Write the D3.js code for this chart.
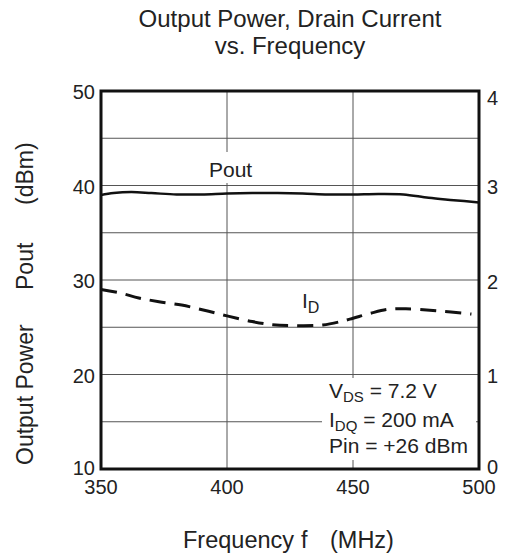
<!DOCTYPE html>
<html><head><meta charset="utf-8">
<script src="https://cdn.jsdelivr.net/npm/d3@7"></script>
<style>body{margin:0;background:#fff}svg{display:block}text{font-family:"Liberation Sans",Arial,Helvetica,sans-serif;fill:#222}</style>
</head><body>
<script>
const freq = [350,355,362,370,380,390,400,410,420,430,440,450,460,470,480,490,500];
const pout = [39.0,39.2,39.3,39.2,39.05,39.05,39.15,39.2,39.2,39.15,39.05,39.05,39.1,39.05,38.7,38.45,38.2];
const idFreq = [350,358,365,373,382,391,400,410,418,426,438,446,450,457,464,471,483,497];
const idVals = [1.90,1.86,1.81,1.77,1.735,1.68,1.62,1.56,1.527,1.517,1.524,1.566,1.595,1.648,1.69,1.696,1.675,1.64];
const xTicks = [350,400,450,500];
const yLeftTicks = [10,20,30,40,50];
const yRightTicks = [0,1,2,3,4];
const yGrid = [15,20,25,30,35,40,45];
const xGrid = [400,450];

const W=506,H=557, L=101,T=91,R=479,B=469;
const svg=d3.select("body").append("svg").attr("width",W).attr("height",H);
const x=d3.scaleLinear().domain([350,500]).range([L,R]);
const yL=d3.scaleLinear().domain([10,50]).range([B,T]);
const yR=d3.scaleLinear().domain([0,4]).range([B,T]);

// grid
svg.append("g").selectAll("line").data(yGrid).join("line")
  .attr("x1",L).attr("x2",R).attr("y1",d=>yL(d)).attr("y2",d=>yL(d))
  .attr("stroke","#555").attr("stroke-width",1);
svg.append("g").selectAll("line").data(xGrid).join("line")
  .attr("x1",d=>x(d)).attr("x2",d=>x(d)).attr("y1",T).attr("y2",B)
  .attr("stroke","#555").attr("stroke-width",1);

// white gaps behind labels
svg.append("rect").attr("x",215).attr("y",152).attr("width",30).attr("height",31).attr("fill","#fff");
svg.append("rect").attr("x",322).attr("y",378).attr("width",154).attr("height",82).attr("fill","#fff");

// curves
const lineP=d3.line().x((d,i)=>x(freq[i])).y(d=>yL(d)).curve(d3.curveCatmullRom);
svg.append("path").attr("d",lineP(pout)).attr("fill","none").attr("stroke","#111").attr("stroke-width",2.5);
const lineI=d3.line().x((d,i)=>x(idFreq[i])).y(d=>yR(d)).curve(d3.curveCatmullRom);
svg.append("path").attr("d",lineI(idVals)).attr("fill","none").attr("stroke","#111").attr("stroke-width",3)
  .attr("stroke-dasharray","16,9");

// frame
svg.append("rect").attr("x",L).attr("y",T).attr("width",R-L).attr("height",B-T)
  .attr("fill","none").attr("stroke","#111").attr("stroke-width",3);

// tick labels
svg.append("g").selectAll("text").data(yLeftTicks).join("text")
  .attr("x",95).attr("y",d=>Math.min(yL(d)+8,B+6)).attr("text-anchor","end").attr("font-size",20).text(d=>d);
svg.append("g").selectAll("text").data(yRightTicks).join("text")
  .attr("x",487).attr("y",d=>Math.min(Math.max(yR(d)+8.5,T+14),B+5)).attr("text-anchor","start").attr("font-size",20).text(d=>d);
svg.append("g").selectAll("text").data(xTicks).join("text")
  .attr("x",d=>x(d)).attr("y",494).attr("text-anchor","middle").attr("font-size",20).text(d=>d);

// title
svg.append("text").attr("x",290).attr("y",27).attr("text-anchor","middle").attr("font-size",24).text("Output Power, Drain Current");
svg.append("text").attr("x",290).attr("y",54).attr("text-anchor","middle").attr("font-size",24).text("vs. Frequency");

// axis titles (pieces)
const ytParts=[["Output Power",465],["Pout",290],["(dBm)",205]];
svg.append("g").selectAll("text").data(ytParts).join("text")
  .attr("transform",d=>`translate(33,${d[1]}) rotate(-90)`).attr("font-size",23).text(d=>d[0]);
const xtParts=[["Frequency",183],["f",301],["(MHz)",330]];
svg.append("g").selectAll("text").data(xtParts).join("text")
  .attr("x",d=>d[1]).attr("y",548).attr("font-size",23.5).text(d=>d[0]);

// curve labels
svg.append("text").attr("x",209).attr("y",177).attr("font-size",21).text("Pout");
const id=svg.append("text").attr("x",302).attr("y",308).attr("font-size",21);
id.append("tspan").text("I");
id.append("tspan").attr("font-size",16).attr("dy",5).text("D");

// annotation
const a1=svg.append("text").attr("x",329).attr("y",398).attr("font-size",21);
a1.append("tspan").text("V");
a1.append("tspan").attr("font-size",15).attr("dy",4).text("DS");
a1.append("tspan").attr("dy",-4).text(" = 7.2 V");
const a2=svg.append("text").attr("x",329).attr("y",427).attr("font-size",21);
a2.append("tspan").text("I");
a2.append("tspan").attr("font-size",15).attr("dy",4).text("DQ");
a2.append("tspan").attr("dy",-4).text(" = 200 mA");
svg.append("text").attr("x",329).attr("y",453).attr("font-size",21).text("Pin = +26 dBm");
</script>
</body></html>
